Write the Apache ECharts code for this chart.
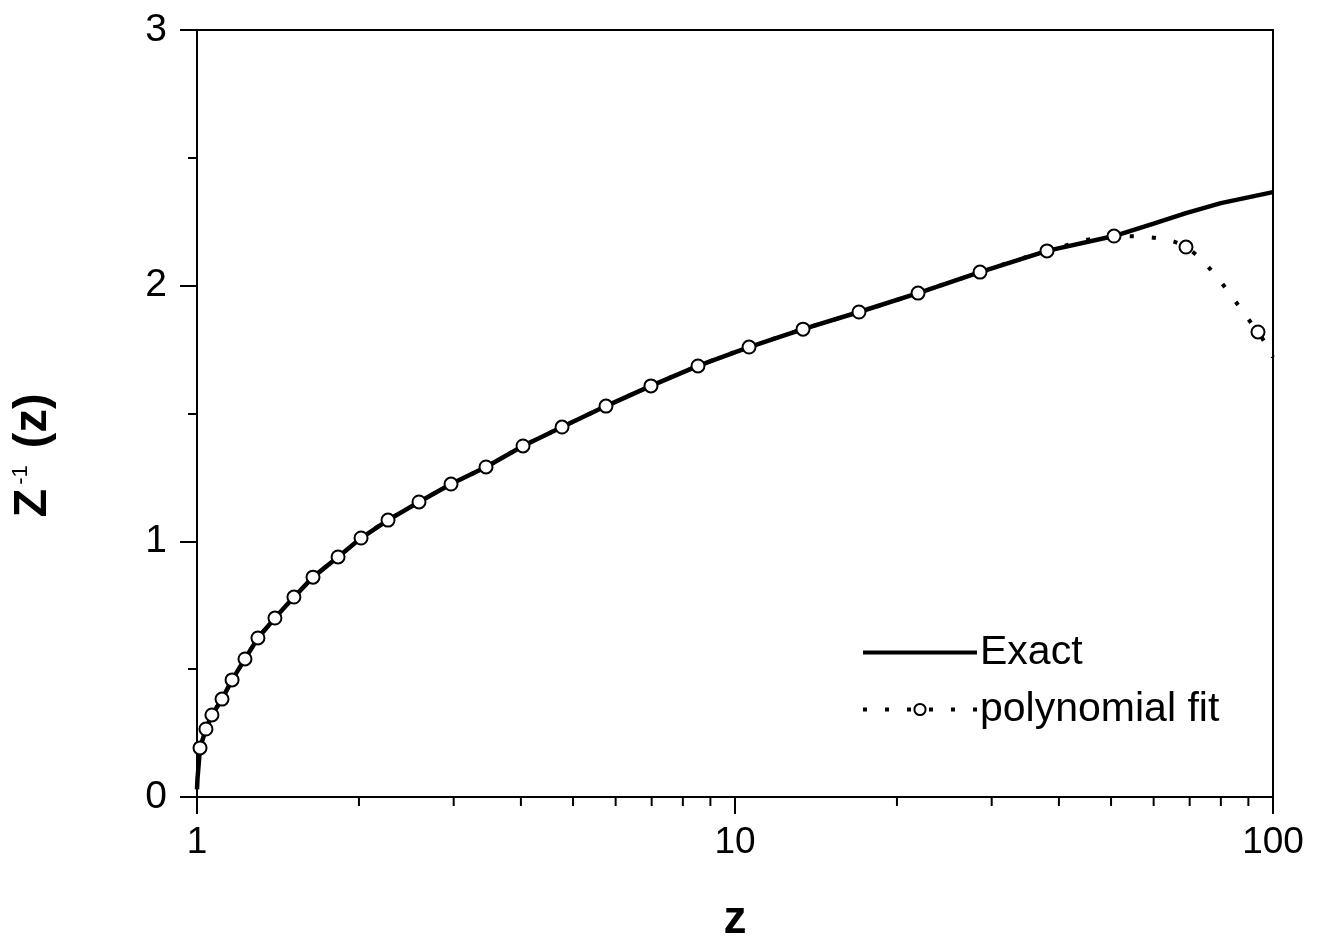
<!DOCTYPE html>
<html>
<head>
<meta charset="utf-8">
<script src="https://cdn.jsdelivr.net/npm/echarts@6/dist/echarts.min.js"></script>
<style>
html,body{margin:0;padding:0;background:#fff;}
#chart{width:1317px;height:943px;}
</style>
</head>
<body>
<div id="chart"></div>
<script>
// Polynomial fit markers (z, Z^-1)
const fitZ = [1.013, 1.039, 1.066, 1.113, 1.162, 1.228, 1.298, 1.396, 1.514, 1.643, 1.829, 2.018, 2.265, 2.586, 2.966, 3.445, 4.036, 4.770, 5.757, 6.979, 8.535, 10.62, 13.38, 17.00, 21.89, 28.54, 38.01, 50.64, 68.91, 93.78];
const fitY = [0.192, 0.266, 0.321, 0.383, 0.458, 0.540, 0.622, 0.700, 0.782, 0.860, 0.939, 1.013, 1.083, 1.154, 1.224, 1.291, 1.373, 1.447, 1.529, 1.608, 1.686, 1.760, 1.830, 1.897, 1.971, 2.053, 2.136, 2.194, 2.151, 1.819];
const fitEnd = [100, 1.72];

// Exact curve samples
const exactZ = [1.0, 1.002, 1.013, 1.039, 1.066, 1.113, 1.162, 1.228, 1.298, 1.396, 1.514, 1.643, 1.829, 2.018, 2.265, 2.586, 2.966, 3.445, 4.036, 4.770, 5.757, 6.979, 8.535, 10.62, 13.38, 17.00, 21.89, 28.54, 38.01, 50.64, 60.0, 68.91, 80.0, 100];
const exactY = [0.03, 0.07, 0.192, 0.266, 0.321, 0.383, 0.458, 0.540, 0.622, 0.700, 0.782, 0.860, 0.939, 1.013, 1.083, 1.154, 1.224, 1.291, 1.373, 1.447, 1.529, 1.608, 1.686, 1.760, 1.830, 1.897, 1.971, 2.053, 2.136, 2.194, 2.243, 2.284, 2.323, 2.366];

const minorTicksX = [2, 3, 4, 5, 6, 7, 8, 9, 20, 30, 40, 50, 60, 70, 80, 90];
const xTickLabels = ['1', '10', '100'];
const yTickLabels = ['0', '1', '2', '3'];

const FONT = 'Liberation Sans';

const exactData = exactZ.map((z, i) => [z, exactY[i]]);
const fitData = fitZ.map((z, i) => [z, fitY[i]]);
fitData.push({ value: fitEnd, symbol: 'none' });

const chart = echarts.init(document.getElementById('chart'));
chart.setOption({
  animation: false,
  backgroundColor: '#fff',
  grid: { left: 197, right: 44, top: 30, bottom: 146, outerBoundsMode: 'none', containLabel: false, show: true, borderColor: '#000', borderWidth: 2, backgroundColor: 'transparent' },
  legend: {
    orient: 'vertical',
    left: 856,
    top: 627,
    itemWidth: 114,
    itemHeight: 14,
    itemGap: 16,
    textStyle: { fontFamily: FONT, fontSize: 41, color: '#000', padding: [0, 0, 0, -2] },
    data: [
      { name: 'Exact', itemStyle: { opacity: 0 }, lineStyle: { width: 4 } },
      { name: 'polynomial fit', lineStyle: { width: 4 } }
    ]
  },
  xAxis: {
    type: 'log',
    logBase: 10,
    min: 1,
    max: 100,
    name: 'z',
    nameLocation: 'middle',
    nameGap: 100,
    nameTextStyle: { fontFamily: FONT, fontSize: 46, fontWeight: 'bold', color: '#000' },
    axisLine: { lineStyle: { color: '#000', width: 2 } },
    axisTick: { show: true, inside: false, length: 17, lineStyle: { color: '#000', width: 2 } },
    axisLabel: {
      margin: 27,
      fontFamily: FONT, fontSize: 37, color: '#000',
      formatter: v => { const i = Math.round(Math.log10(v)); return xTickLabels[i] !== undefined ? xTickLabels[i] : ''; }
    },
    splitLine: { show: false }
  },
  yAxis: {
    type: 'value',
    min: 0,
    max: 3,
    interval: 1,
    name: '{b|Z}{s|-1}{b| (z)}',
    nameLocation: 'middle',
    nameGap: 140,
    nameRotate: 90,
    nameTextStyle: {
      padding: [0, 84, 0, 0],
      rich: {
        b: { fontFamily: FONT, fontSize: 47, fontWeight: 'bold', color: '#000' },
        s: { fontFamily: FONT, fontSize: 22, color: '#000', verticalAlign: 'top', padding: [0, 4, 0, 4] }
      }
    },
    axisLine: { show: true, lineStyle: { color: '#000', width: 2 } },
    axisTick: { show: true, inside: false, length: 17, lineStyle: { color: '#000', width: 2 } },
    minorTick: { show: true, splitNumber: 2, length: 9, lineStyle: { color: '#000', width: 2 } },
    axisLabel: {
      margin: 30,
      fontFamily: FONT, fontSize: 39, color: '#000',
      formatter: v => yTickLabels[Math.round(v)] !== undefined ? yTickLabels[Math.round(v)] : ''
    },
    splitLine: { show: false }
  },
  series: [
    {
      name: 'polynomial fit',
      type: 'line',
      data: fitData,
      smooth: 0.3,
      symbol: 'circle',
      symbolSize: 13,
      showAllSymbol: true,
      itemStyle: { color: '#fff', borderColor: '#000', borderWidth: 2 },
      lineStyle: { color: '#000', width: 4, type: [4, 18] },
      z: 3
    },
    {
      name: 'Exact',
      type: 'line',
      data: exactData,
      symbol: 'none',
      lineStyle: { color: '#000', width: 4.5 },
      itemStyle: { color: '#000' },
      z: 2
    },
    {
      type: 'custom',
      silent: true,
      clip: false,
      data: minorTicksX.map(v => [v, 0]),
      renderItem: function (params, api) {
        const p = api.coord([api.value(0), api.value(1)]);
        return {
          type: 'line',
          shape: { x1: p[0], y1: p[1], x2: p[0], y2: p[1] + 9 },
          style: { stroke: '#000', lineWidth: 2 }
        };
      },
      z: 5
    }
  ]
});
</script>
</body>
</html>
